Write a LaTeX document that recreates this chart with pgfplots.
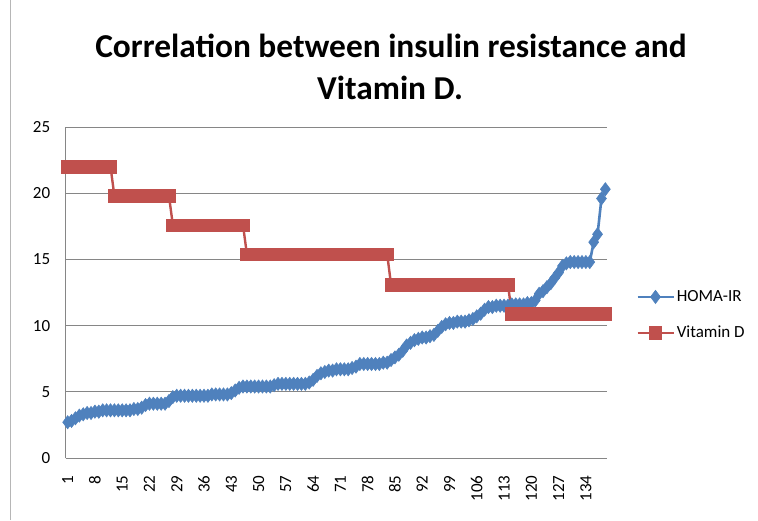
\documentclass[border=0pt]{standalone}
\usepackage{fontspec}
\setmainfont{Carlito}
\usepackage{pgfplots}
\pgfplotsset{compat=1.18}
\usepackage{pgfplotstable}
\definecolor{xlblue}{HTML}{4F81BD}
\definecolor{xlred}{HTML}{C0504D}
\definecolor{xlgrid}{HTML}{868686}

\pgfplotstableread{
x h v
1 2.7 22.0
2 2.8 22.0
3 3.0 22.0
4 3.2 22.0
5 3.3 22.0
6 3.4 22.0
7 3.4 22.0
8 3.5 22.0
9 3.5 22.0
10 3.6 22.0
11 3.6 22.0
12 3.6 22.0
13 3.6 19.8
14 3.6 19.8
15 3.6 19.8
16 3.6 19.8
17 3.6 19.8
18 3.7 19.8
19 3.7 19.8
20 3.8 19.8
21 4.0 19.8
22 4.1 19.8
23 4.1 19.8
24 4.1 19.8
25 4.1 19.8
26 4.1 19.8
27 4.3 19.8
28 4.6 17.6
29 4.7 17.6
30 4.7 17.6
31 4.7 17.6
32 4.7 17.6
33 4.7 17.6
34 4.7 17.6
35 4.7 17.6
36 4.7 17.6
37 4.7 17.6
38 4.8 17.6
39 4.8 17.6
40 4.8 17.6
41 4.8 17.6
42 4.8 17.6
43 4.9 17.6
44 5.1 17.6
45 5.3 17.6
46 5.4 17.6
47 5.4 15.4
48 5.4 15.4
49 5.4 15.4
50 5.4 15.4
51 5.4 15.4
52 5.4 15.4
53 5.4 15.4
54 5.5 15.4
55 5.6 15.4
56 5.6 15.4
57 5.6 15.4
58 5.6 15.4
59 5.6 15.4
60 5.6 15.4
61 5.6 15.4
62 5.6 15.4
63 5.7 15.4
64 5.9 15.4
65 6.2 15.4
66 6.4 15.4
67 6.5 15.4
68 6.6 15.4
69 6.6 15.4
70 6.7 15.4
71 6.7 15.4
72 6.7 15.4
73 6.7 15.4
74 6.8 15.4
75 6.9 15.4
76 7.1 15.4
77 7.1 15.4
78 7.1 15.4
79 7.1 15.4
80 7.1 15.4
81 7.1 15.4
82 7.2 15.4
83 7.2 15.4
84 7.4 13.1
85 7.6 13.1
86 7.8 13.1
87 8.1 13.1
88 8.5 13.1
89 8.7 13.1
90 8.9 13.1
91 9.0 13.1
92 9.1 13.1
93 9.1 13.1
94 9.2 13.1
95 9.3 13.1
96 9.6 13.1
97 9.9 13.1
98 10.1 13.1
99 10.2 13.1
100 10.2 13.1
101 10.3 13.1
102 10.3 13.1
103 10.3 13.1
104 10.4 13.1
105 10.5 13.1
106 10.7 13.1
107 10.9 13.1
108 11.2 13.1
109 11.4 13.1
110 11.4 13.1
111 11.5 13.1
112 11.5 13.1
113 11.5 13.1
114 11.5 13.1
115 11.6 10.9
116 11.6 10.9
117 11.6 10.9
118 11.6 10.9
119 11.7 10.9
120 11.7 10.9
121 11.9 10.9
122 12.4 10.9
123 12.6 10.9
124 12.9 10.9
125 13.2 10.9
126 13.6 10.9
127 14.0 10.9
128 14.5 10.9
129 14.7 10.9
130 14.8 10.9
131 14.8 10.9
132 14.8 10.9
133 14.8 10.9
134 14.8 10.9
135 14.8 10.9
136 16.3 10.9
137 16.9 10.9
138 19.6 10.9
139 20.3 10.9
}\datatable

\begin{document}
\begin{tikzpicture}
\path[use as bounding box] (0pt,0pt) rectangle (758pt,520pt);
\draw[xlgrid!60, line width=1pt] (10pt,0pt) -- (10pt,520pt);
\node[anchor=base, font=\fontsize{33.4}{40}\selectfont\bfseries] at (391pt,462pt) {Correlation between insulin resistance and};
\node[anchor=base, font=\fontsize{33.4}{40}\selectfont\bfseries] at (390pt,420pt) {Vitamin D.};
\begin{axis}[
  at={(65.7pt,62pt)}, anchor=south west,
  scale only axis, width=541.6pt, height=331pt,
  xmin=0.5, xmax=139.5, ymin=0, ymax=25,
  ytick={0,5,...,25},
  xtick={1,8,...,134},
  axis lines=left,
  axis line style={-, draw=xlgrid, line width=0.8pt},
  ymajorgrids, grid style={draw=xlgrid, line width=0.8pt},
  major tick length=0pt,
  /pgf/number format/assume math mode=true,
  ticklabel style={font=\fontsize{17}{20}\selectfont},
  yticklabel style={xshift=-12pt},
  xticklabel style={yshift=-14pt, rotate=90, anchor=east},
  clip=false,
  legend style={at={(1.053,0.432)}, anchor=west, draw=none, fill=none,
    inner sep=0pt, font=\fontsize{17}{20}\selectfont, row sep=19pt,
    legend cell align=left},
  legend image code/.code={\draw[mark repeat=2,mark phase=2,#1] plot coordinates {(0pt,0pt) (18pt,0pt) (36pt,0pt)};},
]
\addplot[color=xlblue, line width=2.6pt, mark=diamond*, mark size=6.6pt,
  mark options={line width=0.6pt, fill=xlblue, draw=xlblue}] table[x=x,y=h] {\datatable};
\addlegendentry{HOMA-IR}
\addplot[color=xlred, line width=2.4pt, mark=square*, mark size=6.2pt,
  mark options={line width=0.5pt, fill=xlred, draw=xlred}] table[x=x,y=v] {\datatable};
\addlegendentry{Vitamin D}
\end{axis}
\end{tikzpicture}
\end{document}
